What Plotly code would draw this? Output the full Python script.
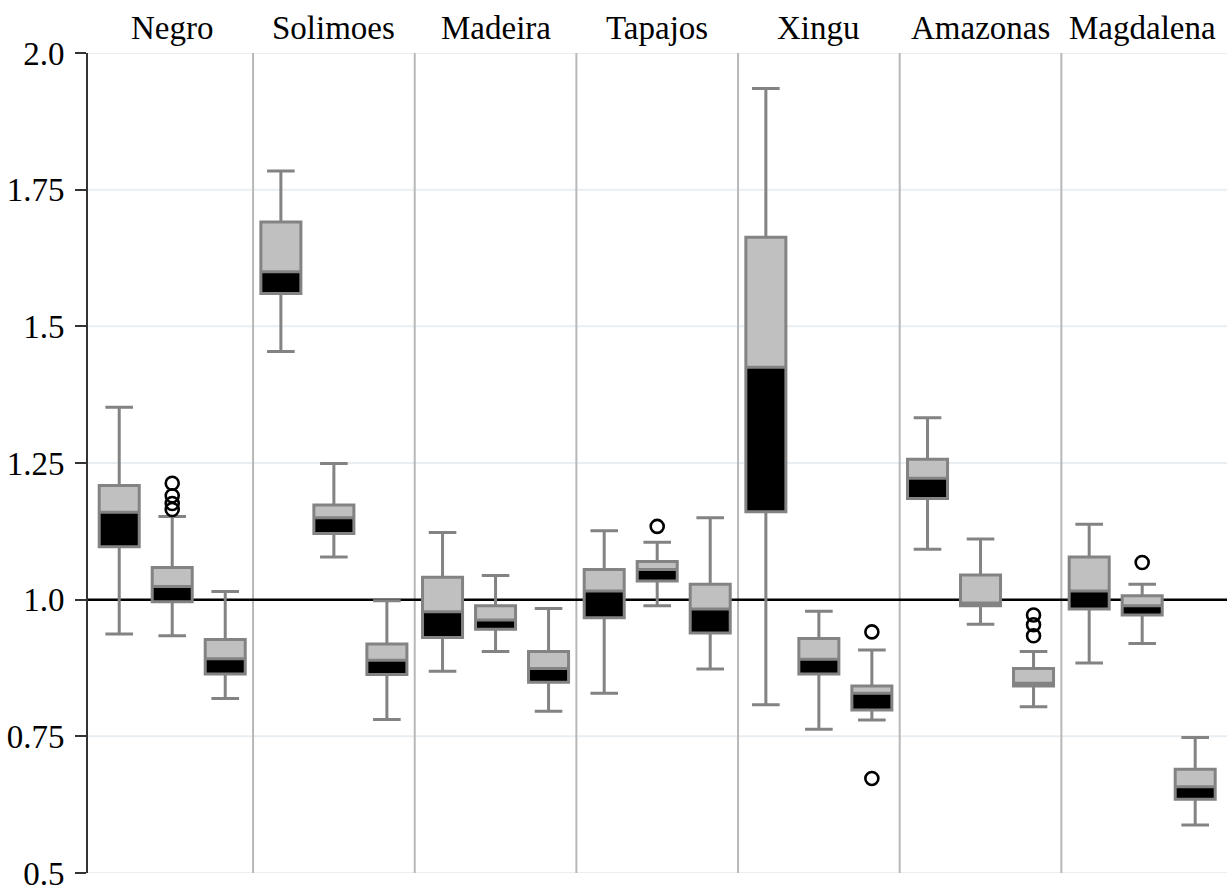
import plotly.graph_objects as go

# ---------------- data ----------------
rivers = ["Negro", "Solimoes", "Madeira", "Tapajos", "Xingu", "Amazonas", "Magdalena"]
boxes_per_river = 3

upper_whisker = [1.352, 1.152, 1.015,  1.784, 1.249, 0.998,  1.123, 1.044, 0.984,
                 1.126, 1.105, 1.150,  1.935, 0.979, 0.908,  1.333, 1.111, 0.905,
                 1.138, 1.028, 0.748]
q3 = [1.209, 1.059, 0.927,  1.691, 1.173, 0.919,  1.041, 0.989, 0.905,
      1.055, 1.070, 1.028,  1.663, 0.929, 0.842,  1.257, 1.045, 0.874,
      1.078, 1.007, 0.690]
median = [1.160, 1.024, 0.892,  1.600, 1.150, 0.889,  0.978, 0.963, 0.874,
          1.016, 1.055, 0.983,  1.425, 0.891, 0.829,  1.222, 0.994, 0.847,
          1.016, 0.989, 0.658]
q1 = [1.097, 0.996, 0.864,  1.560, 1.121, 0.863,  0.931, 0.946, 0.849,
      0.967, 1.034, 0.939,  1.161, 0.864, 0.798,  1.185, 0.989, 0.842,
      0.983, 0.972, 0.635]
lower_whisker = [0.937, 0.934, 0.819,  1.454, 1.078, 0.781,  0.869, 0.905, 0.796,
                 0.829, 0.989, 0.873,  0.808, 0.763, 0.780,  1.092, 0.955, 0.804,
                 0.884, 0.920, 0.588]

# outliers: index of the box they belong to, and value
outlier_box = [1, 1, 1, 1, 10, 14, 14, 17, 17, 17, 19]
outlier_values = [1.213, 1.190, 1.176, 1.165, 1.134, 0.941, 0.673, 0.972, 0.954, 0.934, 1.068]

y_ticks = [0.5, 0.75, 1.0, 1.25, 1.5, 1.75, 2.0]
y_tick_labels = ["0.5", "0.75", "1.0", "1.25", "1.5", "1.75", "2.0"]
reference_value = 1.0

# ---------------- layout helpers ----------------
PITCH = 3.05      # distance between river panels (box spacing = 1)
BOX_W = 0.755
CAP_RATIO = 0.69
GREY_FILL = "#c0c0c0"
OUTLINE = "#838383"
FONT = "Liberation Serif"

pos = [g * PITCH + s for g in range(len(rivers)) for s in range(boxes_per_river)]

fig = go.Figure()

# upper half (median -> Q3), light grey
fig.add_trace(go.Bar(
    x=pos, base=median, y=[a - b for a, b in zip(q3, median)],
    width=BOX_W, marker=dict(color=GREY_FILL, line=dict(width=0)),
    hoverinfo="skip", showlegend=False))
# lower half (Q1 -> median), black
fig.add_trace(go.Bar(
    x=pos, base=q1, y=[a - b for a, b in zip(median, q1)],
    width=BOX_W, marker=dict(color="black", line=dict(width=0)),
    hoverinfo="skip", showlegend=False))
# outlines, median line, whiskers with caps
fig.add_trace(go.Box(
    x=pos, q1=q1, median=median, q3=q3,
    lowerfence=lower_whisker, upperfence=upper_whisker,
    width=BOX_W, whiskerwidth=CAP_RATIO,
    fillcolor="rgba(0,0,0,0)", line=dict(color=OUTLINE, width=3),
    boxpoints=False, hoverinfo="skip", showlegend=False))
# outliers
fig.add_trace(go.Scatter(
    x=[pos[i] for i in outlier_box], y=outlier_values, mode="markers",
    marker=dict(symbol="circle-open", size=13, color="black", line=dict(width=2.6)),
    hoverinfo="skip", showlegend=False))

shapes = []
# light horizontal gridlines (drawn as shapes so the reference line sits above them)
for t in y_ticks:
    if t == reference_value:
        continue
    shapes.append(dict(type="line", xref="paper", yref="y", x0=0, x1=1, y0=t, y1=t,
                       line=dict(color="#e8eef1", width=2), layer="below"))
# vertical separators between rivers
for g in range(len(rivers) - 1):
    xs = g * PITCH + (boxes_per_river - 1) + (PITCH - (boxes_per_river - 1)) / 2
    shapes.append(dict(type="line", xref="x", yref="paper", x0=xs, x1=xs, y0=0, y1=1,
                       line=dict(color="#b8b8b8", width=2), layer="below"))
# reference line at 1.0
shapes.append(dict(type="line", xref="paper", yref="y", x0=0, x1=1,
                   y0=reference_value, y1=reference_value,
                   line=dict(color="black", width=2.5), layer="below"))

annotations = [dict(x=g * PITCH + 1, y=1.031, xref="x", yref="paper", text=r,
                    showarrow=False, yanchor="middle", xanchor="center",
                    font=dict(family=FONT, size=33, color="black"))
               for g, r in enumerate(rivers)]

fig.update_layout(
    width=1227, height=886,
    margin=dict(l=88, r=0, t=53, b=13, autoexpand=False),
    paper_bgcolor="white", plot_bgcolor="white",
    barmode="overlay", showlegend=False,
    shapes=shapes, annotations=annotations,
    xaxis=dict(range=[-0.589, 20.9], visible=False),
    yaxis=dict(range=[0.5, 2.0], tickvals=y_ticks, ticktext=y_tick_labels,
               ticks="outside", ticklen=11, tickwidth=2, tickcolor="#333333",
               showline=True, linecolor="#333333", linewidth=2,
               showgrid=False, zeroline=False, ticklabelstandoff=4,
               ticklabeloverflow="allow", automargin=False,
               tickfont=dict(family=FONT, size=33, color="black")),
)

fig.write_html("out.html",
               config={"displayModeBar": False},
               post_script="document.body.style.margin='0';"
                           "document.body.style.overflow='hidden';")
